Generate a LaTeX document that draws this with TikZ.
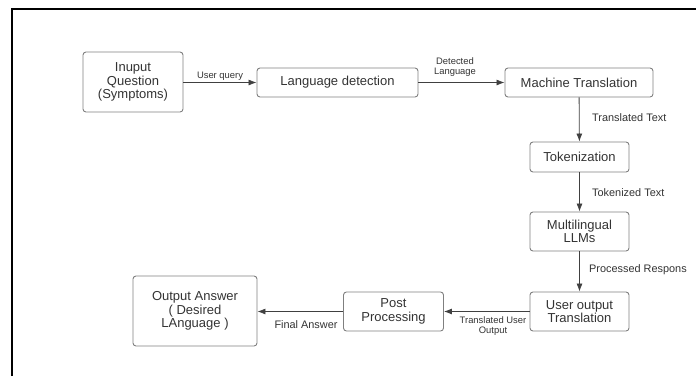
\documentclass[tikz,border=0pt]{standalone}
\usepackage{fontspec}
\setmainfont{Liberation Sans}
\usetikzlibrary{arrows.meta}
\definecolor{boxline}{HTML}{7F7F7F}
\definecolor{txt}{HTML}{333333}
\definecolor{arr}{HTML}{404040}
\tikzset{
  box/.style={draw=boxline, line width=0.9pt, rounded corners=3pt, align=center, inner sep=0pt,
    text=txt, font=\fontsize{13}{13.4}\selectfont},
  conn/.style={draw=arr, line width=0.8pt, -{Latex[length=8pt,width=6pt]}},
  lblsmall/.style={text=txt, align=center, inner sep=0pt, font=\fontsize{9.4}{9.6}\selectfont},
  lblbig/.style={text=txt, align=center, inner sep=0pt, font=\fontsize{10.9}{12}\selectfont},
}
\begin{document}
\begin{tikzpicture}[x=1pt,y=-1pt]
\useasboundingbox (0,0) rectangle (696,376);
% frame
\draw[line width=2.6pt, black] (12,376) -- (12,9) -- (696,9);
% nodes
\node[box, minimum width=100pt, minimum height=60pt] (inp) at (133,82) {Inuput\\Question\\(Symptoms)};
\node[box, minimum width=161pt, minimum height=29pt] (lang) at (337.5,82.5) {Language detection};
\node[box, minimum width=148pt, minimum height=29pt] (mt) at (579,82.5) {Machine Translation};
\node[box, minimum width=99pt, minimum height=30pt] (tok) at (579.5,157) {Tokenization};
\node[box, minimum width=99pt, minimum height=39pt] (llm) at (579.5,231.5) {Multilingual\\LLMs};
\node[box, minimum width=99pt, minimum height=39pt] (uot) at (579.5,311.5) {User output\\Translation};
\node[box, minimum width=100pt, minimum height=39pt] (post) at (393.5,311.5) {Post\\Processing};
\node[box, minimum width=124pt, minimum height=70pt] (out) at (195,311) {Output Answer\\( Desired\\LAnguage )};
% connectors
\draw[conn] (inp.east |- lang.west) -- (lang.west);
\draw[conn] (lang) -- (mt);
\draw[conn] (mt) -- (tok);
\draw[conn] (tok) -- (llm);
\draw[conn] (llm) -- (uot);
\draw[conn] (uot) -- (post);
\draw[conn] (post) -- (out.east |- post.west);
% labels
\node[lblsmall] (l1) at (220,76) {User query};
\node[lblsmall] (l2) at (455,67) {Detected\\Language};
\node[lblbig, anchor=west] (l3) at (592,118) {Translated Text};
\node[lblbig, anchor=west] (l4) at (592,193) {Tokenized Text};
\node[lblbig, anchor=west] (l5) at (589,270) {Processed Respons};
\node[lblsmall] (l6) at (493,326) {Translated User\\Output};
\node[lblbig] (l7) at (306,325) {Final Answer};
\end{tikzpicture}
\end{document}
